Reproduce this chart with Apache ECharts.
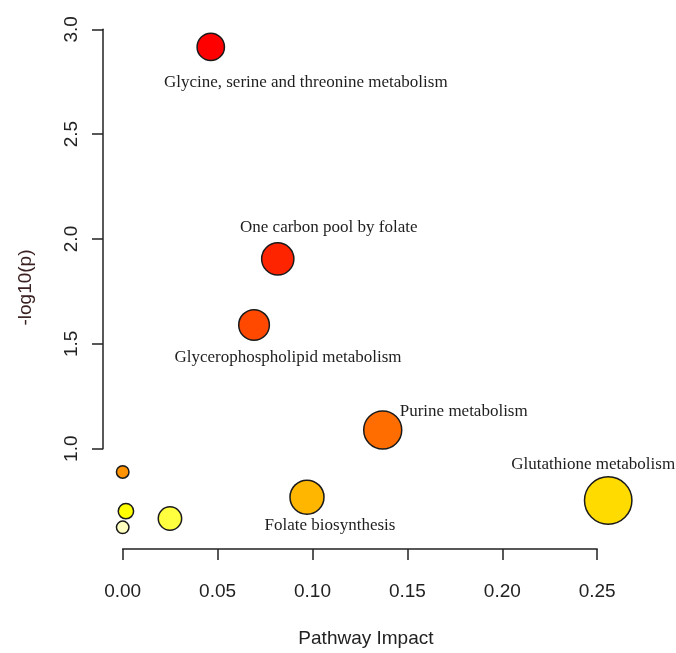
<!DOCTYPE html>
<html>
<head>
<meta charset="utf-8">
<script src="https://cdn.jsdelivr.net/npm/echarts@6/dist/echarts.min.js"></script>
<style>
  html, body { margin: 0; padding: 0; background: #ffffff; }
  #chart { width: 676px; height: 653px; }
</style>
</head>
<body>
<div id="chart"></div>
<script>
// Pathway analysis: impact vs. -log10(p)
const pathwayNames = [
  'Glycine, serine and threonine metabolism',
  'One carbon pool by folate',
  'Glycerophospholipid metabolism',
  'Purine metabolism',
  '',
  'Folate biosynthesis',
  'Glutathione metabolism',
  '',
  '',
  ''
];
const pathwayImpact = [0.0464, 0.0817, 0.0692, 0.137, 0.0, 0.0971, 0.2558, 0.0017, 0.0249, 0.0];
const negLog10P     = [2.916, 1.905, 1.590, 1.089, 0.889, 0.769, 0.753, 0.702, 0.667, 0.625];

const xTicks = [0.00, 0.05, 0.10, 0.15, 0.20, 0.25];
const yTicks = [1.0, 1.5, 2.0, 2.5, 3.0];

// heat colours, assigned by significance rank (most significant = red)
const heatPalette = ['#FF0000', '#FF2400', '#FF4900', '#FF6D00', '#FF9200',
                     '#FFB600', '#FFDB00', '#FFFF00', '#FFFF40', '#FFFFBF'];

// label placement relative to each bubble [dx, dy]
const labelOffsets = [[95, 36], [51, -31], [34, 33], [81, -19], [0, 0],
                      [23, 28], [-15, -36], [0, 0], [0, 0], [0, 0]];

const order = negLog10P.map((v, i) => i).sort((a, b) => negLog10P[b] - negLog10P[a]);
const rank = [];
order.forEach((idx, r) => { rank[idx] = r; });

const points = pathwayImpact.map((x, i) => ({
  value: [x, negLog10P[i]],
  name: pathwayNames[i],
  itemStyle: { color: heatPalette[rank[i]] },
  label: {
    show: pathwayNames[i] !== '',
    position: 'inside',
    offset: labelOffsets[i]
  }
}));

const sans = "'Liberation Sans', Arial, sans-serif";
const ink = '#222222';

const chart = echarts.init(document.getElementById('chart'), null, { renderer: 'canvas' });
chart.setOption({
  backgroundColor: '#ffffff',
  animation: false,
  grid: { left: 122.7, top: 29.3, width: 474.5, height: 426.4, containLabel: false },
  xAxis: {
    type: 'value',
    min: xTicks[0],
    max: xTicks[xTicks.length - 1],
    interval: 0.05,
    offset: 100.3,
    name: 'Pathway Impact',
    nameLocation: 'middle',
    nameGap: 80,
    nameTextStyle: { fontFamily: sans, fontSize: 19, color: ink, padding: [0, 0, 0, 12] },
    axisLine: { show: true, onZero: false, lineStyle: { color: ink, width: 1.5 } },
    axisTick: { show: true, length: 11, lineStyle: { color: ink, width: 1.5 } },
    axisLabel: { fontFamily: sans, fontSize: 19, color: ink, margin: 33,
                 formatter: v => v.toFixed(2) },
    splitLine: { show: false }
  },
  yAxis: {
    type: 'value',
    min: yTicks[0],
    max: yTicks[yTicks.length - 1],
    interval: 0.5,
    offset: 19.7,
    name: '-log10(p)',
    nameLocation: 'middle',
    nameGap: 68,
    nameTextStyle: { fontFamily: sans, fontSize: 19, color: '#3a2020', padding: [0, 97, 0, 0] },
    axisLine: { show: true, onZero: false, lineStyle: { color: ink, width: 1.5 } },
    axisTick: { show: true, length: 11, lineStyle: { color: ink, width: 1.5 } },
    axisLabel: { fontFamily: sans, fontSize: 19, color: ink, margin: 22, rotate: 90,
                 formatter: v => v.toFixed(1) },
    splitLine: { show: false }
  },
  series: [{
    type: 'scatter',
    clip: false,
    data: points,
    symbol: 'circle',
    symbolSize: v => 12.5 + 69 * Math.sqrt(v[0]),
    itemStyle: { borderColor: '#1a1a1a', borderWidth: 1.5, opacity: 1 },
    label: {
      formatter: p => p.name,
      fontFamily: "'Liberation Serif', 'Times New Roman', serif",
      fontSize: 17,
      color: '#1e1e1e'
    },
    emphasis: { disabled: true }
  }]
});
</script>
</body>
</html>
